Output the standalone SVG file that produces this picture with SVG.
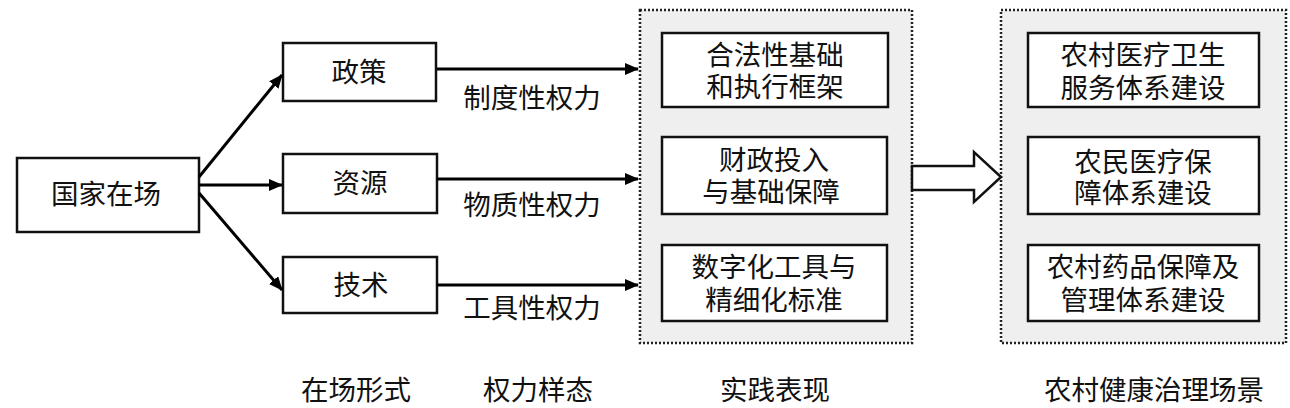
<svg xmlns="http://www.w3.org/2000/svg" width="1290" height="408" viewBox="0 0 1290 408">
<style>
text{font-family:"Liberation Sans","Noto Sans CJK SC",sans-serif;font-size:27.5px;fill:#111;text-anchor:middle}
.box{fill:#fff;stroke:#111;stroke-width:2.5}
.panel{fill:#efefef;stroke:#222;stroke-width:2.5;stroke-dasharray:2 2}
.conn{stroke:#000;stroke-width:3;fill:none;marker-end:url(#ah)}
</style>
<defs>
<marker id="ah" viewBox="0 0 14 12" refX="13" refY="6" markerWidth="14" markerHeight="12" markerUnits="userSpaceOnUse" orient="auto">
<path d="M0,0 L14,6 L0,12 Z" fill="#000"/>
</marker>
</defs>
<rect width="1290" height="408" fill="#fff"/>
<g id="panel-practice"><rect class="panel" x="640" y="10" width="272" height="333"/></g>
<g id="panel-scene"><rect class="panel" x="1001" y="10" width="285" height="333"/></g>
<g id="guojia"><rect class="box" x="17" y="158" width="182" height="74"/><text x="106" y="204">国家在场</text></g>
<g id="zhengce"><rect class="box" x="283" y="43" width="153" height="58"/><text x="359" y="82">政策</text></g>
<g id="ziyuan"><rect class="box" x="283" y="154" width="154" height="59"/><text x="360" y="193">资源</text></g>
<g id="jishu"><rect class="box" x="283" y="257" width="154" height="56"/><text x="361" y="295">技术</text></g>
<g id="p1"><rect class="box" x="662" y="33" width="226" height="74"/><text x="775" y="65">合法性基础</text><text x="775" y="97">和执行框架</text></g>
<g id="p2"><rect class="box" x="662" y="137" width="225" height="77"/><text x="774" y="170">财政投入</text><text x="771" y="202">与基础保障</text></g>
<g id="p3"><rect class="box" x="662" y="245" width="225" height="76"/><text x="774" y="277">数字化工具与</text><text x="774" y="310">精细化标准</text></g>
<g id="s1"><rect class="box" x="1028" y="33" width="231" height="74"/><text x="1143" y="65">农村医疗卫生</text><text x="1143" y="98">服务体系建设</text></g>
<g id="s2"><rect class="box" x="1028" y="137" width="231" height="77"/><text x="1143" y="172">农民医疗保</text><text x="1143" y="203">障体系建设</text></g>
<g id="s3"><rect class="box" x="1028" y="245" width="231" height="76"/><text x="1143" y="277">农村药品保障及</text><text x="1143" y="310">管理体系建设</text></g>
<g id="connectors">
<line class="conn" x1="199" y1="177" x2="282" y2="75"/>
<line class="conn" x1="199" y1="185" x2="282" y2="185"/>
<line class="conn" x1="199" y1="193" x2="282" y2="290"/>
<line class="conn" x1="437" y1="69" x2="638" y2="69"/>
<line class="conn" x1="437" y1="179" x2="638" y2="179"/>
<line class="conn" x1="437" y1="285" x2="638" y2="285"/>
<path d="M912,166 L974,166 L974,152 L1001,177 L974,202 L974,190 L912,190 Z" fill="#fff" stroke="#111" stroke-width="2.5" stroke-linejoin="miter"/>
</g>
<g id="labels">
<text x="532" y="108">制度性权力</text>
<text x="532" y="215">物质性权力</text>
<text x="532" y="318">工具性权力</text>
<text x="356" y="400">在场形式</text>
<text x="538" y="400">权力样态</text>
<text x="775" y="400">实践表现</text>
<text x="1154" y="400">农村健康治理场景</text>
</g>
</svg>
